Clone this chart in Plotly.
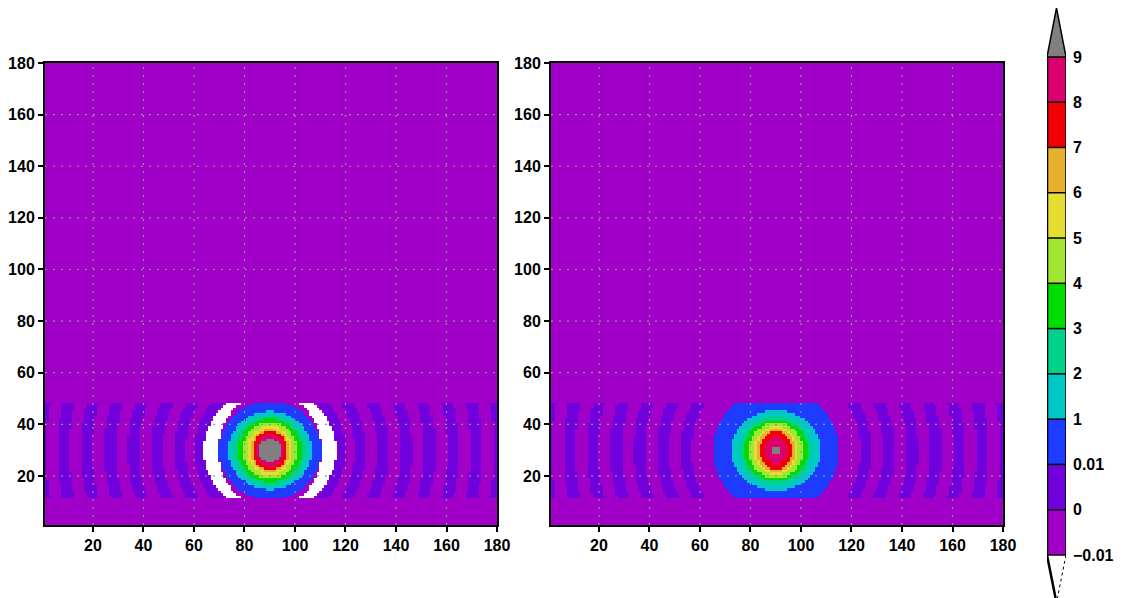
import numpy as np
import plotly.graph_objects as go

# ---------------- data ----------------
x_cells = list(range(1, 181))
y_cells = list(range(1, 181))
center_x, center_y = 90, 30
strip_first_row, strip_last_row = 12, 48

axis_ticks = [20, 40, 60, 80, 100, 120, 140, 160, 180]
level_labels = ["−0.01", "0", "0.01", "1", "2", "3", "4", "5", "6", "7", "8", "9"]
class_colors = ["#ffffff", "#a000c8", "#7000dc", "#1e3cff", "#00c8c8", "#00d28c",
                "#00dc00", "#a0e632", "#e6dc32", "#e6af2d", "#f00000", "#dc006e", "#808080"]

# outer edge of each class from blue (0.01..1) to gray (>9): horizontal / vertical semi-axes
left_a = [20.3, 16.4, 14.4, 12.5, 10.6, 8.9, 7.8, 6.8, 5.6, 4.6]
left_b = [19.0, 15.1, 13.6, 12.3, 11.0, 9.6, 8.5, 7.8, 6.1, 4.3]
right_a = [25.0, 17.6, 14.3, 12.4, 10.6, 8.8, 7.6, 6.3, 4.3, 1.5]
right_b = [23.5, 15.5, 13.3, 12.0, 10.8, 9.5, 8.6, 7.5, 5.5, 1.5]

# white crescent (< -0.01) in the left panel: radius band by row offset
crescent_dy = [0, 6, 12, 18]
crescent_r_in = [20.3, 20.5, 21.0, 21.6]
crescent_r_out = [26.4, 26.1, 25.7, 25.2]

# violet (0..0.01) ring bands (radius from the source)
left_violet_rings = [(26.0, 29.8), (33.3, 37.8), (42.5, 47.0), (51.8, 56.3),
                     (61.0, 65.5), (70.3, 74.8), (79.5, 84.0), (88.8, 93.3)]
right_violet_rings = [(33.3, 37.8), (42.5, 47.0), (51.8, 56.3),
                      (61.0, 65.5), (70.3, 74.8), (79.5, 84.0), (88.8, 93.3)]


def build_field(a_list, b_list, rings, crescent):
    X, Y = np.meshgrid(np.array(x_cells, float), np.array(y_cells, float))
    dx = X - center_x
    dy = Y - center_y
    r = np.hypot(dx, dy)
    z = np.ones(X.shape, dtype=int)
    for lo, hi in rings:
        z[(r >= lo) & (r < hi)] = 2
    if crescent:
        rin = np.interp(np.abs(dy), crescent_dy, crescent_r_in)
        rout = np.interp(np.abs(dy), crescent_dy, crescent_r_out)
        z[(r >= rin) & (r <= rout)] = 0
    for k, (a, b) in enumerate(zip(a_list, b_list)):
        z[(dx / a) ** 2 + (dy / b) ** 2 < 1] = 3 + k
    z[(Y < strip_first_row) | (Y > strip_last_row)] = 1
    return z


z_left = build_field(left_a, left_b, left_violet_rings, True)
z_right = build_field(right_a, right_b, right_violet_rings, False)

n_cls = len(class_colors)
colorscale = []
for i, c in enumerate(class_colors):
    colorscale.append([i / n_cls, c])
    colorscale.append([(i + 1) / n_cls, c])

W, H = 1129, 598
FONT = dict(family="Liberation Sans, Arial, sans-serif", size=16, color="black", weight="bold")

fig = go.Figure()
fig.add_trace(go.Heatmap(x=x_cells, y=y_cells, z=z_left, colorscale=colorscale,
                         zmin=-0.5, zmax=n_cls - 0.5, showscale=False,
                         xaxis="x", yaxis="y", hoverinfo="skip"))
fig.add_trace(go.Heatmap(x=x_cells, y=y_cells, z=z_right, colorscale=colorscale,
                         zmin=-0.5, zmax=n_cls - 0.5, showscale=False,
                         xaxis="x2", yaxis="y2", hoverinfo="skip"))

# colour key boxes
n_box = len(level_labels) - 1
fig.add_trace(go.Heatmap(x=[0.5], y=[i + 0.5 for i in range(n_box)],
                         z=[[i + 1] for i in range(n_box)], colorscale=colorscale,
                         zmin=-0.5, zmax=n_cls - 0.5, showscale=False,
                         xaxis="x3", yaxis="y3", hoverinfo="skip"))
top_tip = n_box + 1.08
bot_tip = -0.95
sep_x, sep_y = [], []
for i in range(n_box + 1):
    sep_x += [0, 1, None]
    sep_y += [i, i, None]
fig.add_trace(go.Scatter(x=sep_x, y=sep_y, mode="lines", line=dict(color="black", width=1.5),
                         xaxis="x3", yaxis="y3", hoverinfo="skip", showlegend=False))
fig.add_trace(go.Scatter(x=[0, 0.5, 1, 0], y=[n_box, top_tip, n_box, n_box], fill="toself",
                         fillcolor=class_colors[-1], mode="lines", line=dict(color="black", width=1.5),
                         xaxis="x3", yaxis="y3", hoverinfo="skip", showlegend=False))
fig.add_trace(go.Scatter(x=[0, 0, 0.45], y=[n_box, 0, bot_tip], mode="lines",
                         line=dict(color="black", width=2.5),
                         xaxis="x3", yaxis="y3", hoverinfo="skip", showlegend=False))
fig.add_trace(go.Scatter(x=[1, 1], y=[n_box, 0], mode="lines",
                         line=dict(color="black", width=1.5),
                         xaxis="x3", yaxis="y3", hoverinfo="skip", showlegend=False))
fig.add_trace(go.Scatter(x=[1, 0.55], y=[0, bot_tip], mode="lines",
                         line=dict(color="black", width=1, dash="3px,3px"),
                         xaxis="x3", yaxis="y3", hoverinfo="skip", showlegend=False))

ydom = [1 - 525 / H, 1 - 63 / H]
ax_common = dict(range=[1, 180], tickvals=axis_ticks, ticks="outside", ticklen=5, tickwidth=1.5,
                 tickcolor="black", showline=True, linewidth=2, linecolor="black", mirror=True,
                 showgrid=False, zeroline=False, tickfont=FONT, fixedrange=True, automargin=False)
fig.update_layout(
    template="none",
    width=W, height=H, margin=dict(l=0, r=0, t=0, b=0, pad=0),
    paper_bgcolor="white", plot_bgcolor="white", showlegend=False,
    xaxis=dict(domain=[45 / W, 497 / W], anchor="y", **ax_common),
    yaxis=dict(domain=ydom, anchor="x", **ax_common),
    xaxis2=dict(domain=[551 / W, 1003 / W], anchor="y2", **ax_common),
    yaxis2=dict(domain=ydom, anchor="x2", **ax_common),
    xaxis3=dict(domain=[1047 / W, 1066 / W], anchor="y3", range=[0, 1], visible=False,
                fixedrange=True, automargin=False),
    yaxis3=dict(domain=[0, 1 - 8 / H], anchor="x3", range=[bot_tip, top_tip], side="right",
                tickvals=list(range(len(level_labels))), ticktext=level_labels, ticks="",
                showline=False, showgrid=False, zeroline=False, tickfont=FONT,
                ticklabelstandoff=6, fixedrange=True, automargin=False),
)

# dotted grid lines above the shaded field
for xa, ya in (("x", "y"), ("x2", "y2")):
    for t in axis_ticks[:-1]:
        fig.add_shape(type="line", xref=xa, yref=ya + " domain", x0=t, x1=t, y0=0, y1=1,
                      line=dict(color="#8a9a8a", width=1.2, dash="2px,6px"), layer="above")
        fig.add_shape(type="line", xref=xa + " domain", yref=ya, x0=0, x1=1, y0=t, y1=t,
                      line=dict(color="#8a9a8a", width=1.2, dash="2px,6px"), layer="above")

fig.write_html("out.html", config={"displayModeBar": False},
               post_script="document.body.style.margin='0px';")
